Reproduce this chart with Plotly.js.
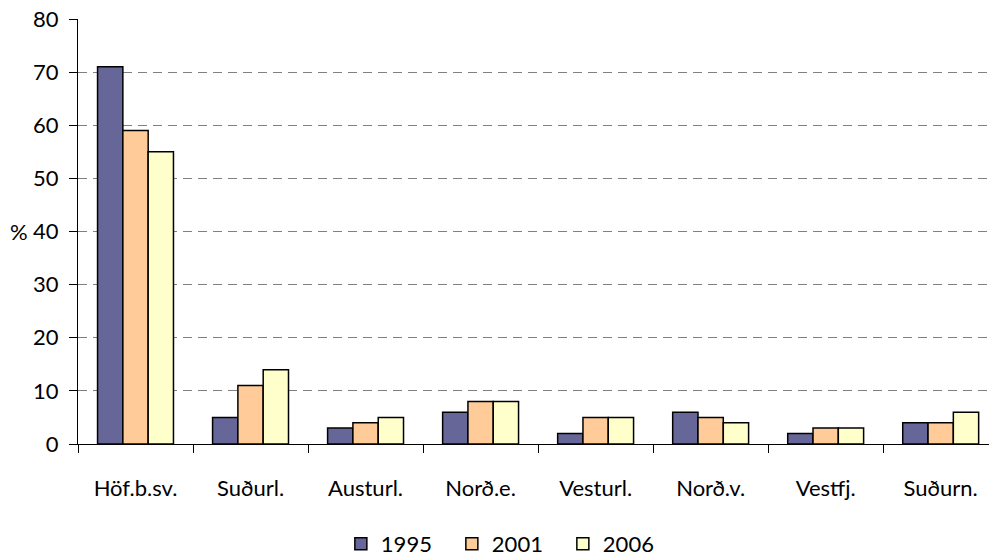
<!DOCTYPE html>
<html><head><meta charset="utf-8">
<script src="https://cdn.plot.ly/plotly-3.0.1.min.js"></script>
<style>body{margin:0;padding:0;background:#fff}#chart{width:989px;height:558px}</style>
</head><body><div id="chart"></div>
<script>
const categories = ["Höf.b.sv.", "Suðurl.", "Austurl.", "Norð.e.", "Vesturl.", "Norð.v.", "Vestfj.", "Suðurn."];
const v1995 = [71, 5, 3, 6, 2, 6, 2, 4];
const v2001 = [59, 11, 4, 8, 5, 5, 3, 4];
const v2006 = [55, 14, 5, 8, 5, 4, 3, 6];
const seriesNames = ["1995", "2001", "2006"];
const colors = ["#666699", "#FFCC99", "#FFFFCC"];
const yTicks = [0, 10, 20, 30, 40, 50, 60, 70, 80];

const font = {family: "Lato, 'Open Sans', sans-serif", size: 22, color: "#000"};
const traces = [v1995, v2001, v2006].map((v, i) => ({
  type: "bar", x: categories, y: v, name: seriesNames[i],
  marker: {color: colors[i], line: {color: "#000", width: 1.5}}
}));

const layout = {
  width: 989, height: 558,
  margin: {l: 78, r: 0, t: 19, b: 114, autoexpand: false},
  paper_bgcolor: "#fff", plot_bgcolor: "#fff",
  font: font,
  barmode: "group", bargap: 0.34, bargroupgap: 0,
  showlegend: true,
  legend: {orientation: "h", x: 0.513, xref: "container", xanchor: "center", yref: "paper", y: -0.235, yanchor: "middle",
           font: font, itemwidth: 30, tracegroupgap: 0, entrywidth: 66, entrywidthmode: "pixels"},
  xaxis: {
    type: "category", range: [-0.5, 7.42], showline: true, linecolor: "#000", linewidth: 1,
    ticks: "outside", tickson: "boundaries", ticklen: 8, tickcolor: "#000",
    ticklabelstandoff: 25, showgrid: false, zeroline: false, fixedrange: true, automargin: false
  },
  yaxis: {
    range: [0, 80], tickvals: yTicks, ticks: "outside", ticklen: 8, tickcolor: "#000",
    showline: true, linecolor: "#000", linewidth: 1,
    showgrid: true, gridcolor: "#808080", griddash: "9px,6px", gridwidth: 1,
    zeroline: false, ticklabelstandoff: 6, fixedrange: true, automargin: false
  },
  annotations: [{text: "%", xref: "paper", yref: "paper", x: -0.053, y: 0.5, xanchor: "right", yanchor: "middle", showarrow: false, font: font}]
};
Plotly.newPlot("chart", traces, layout, {displayModeBar: false, staticPlot: true});
</script></body></html>
